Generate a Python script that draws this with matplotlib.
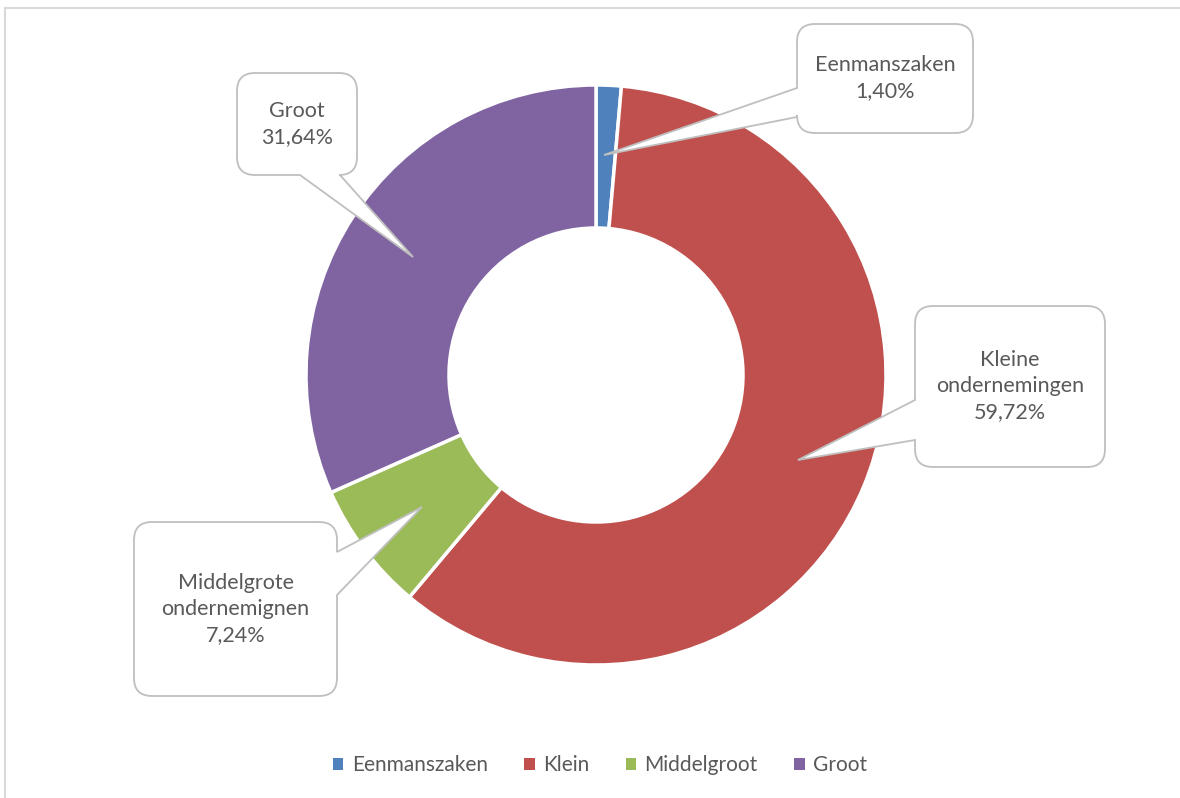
import matplotlib
matplotlib.use("Agg")
import matplotlib.pyplot as plt
from matplotlib.path import Path
from matplotlib.patches import PathPatch, Rectangle

W, H = 1180, 798

categories = ["Eenmanszaken", "Klein", "Middelgroot", "Groot"]
callout_names = ["Eenmanszaken", "Kleine\nondernemingen", "Middelgrote\nondernemignen", "Groot"]
values = [1.40, 59.72, 7.24, 31.64]
colors = ["#4F81BD", "#C0504D", "#9BBB59", "#8064A2"]

plt.rcParams["font.family"] = ["Lato", "DejaVu Sans"]
TXT = "#595959"

fig = plt.figure(figsize=(W / 100, H / 100), dpi=100)
ax = fig.add_axes([0, 0, 1, 1])
ax.set_xlim(0, W)
ax.set_ylim(0, H)
ax.set_aspect("equal")
ax.axis("off")

def Y(y):
    return H - y

# chart border (top and left visible)
ax.add_patch(Rectangle((5, Y(803)), 1185, 795, fill=False, edgecolor="#D9D9D9",
                       lw=1.5, clip_on=False, zorder=0))

cx, cy, R, w = 596, 375, 290, 143
wedges, _ = ax.pie(values, colors=colors, startangle=90, counterclock=False,
                   center=(cx, Y(cy)), radius=R, frame=True,
                   wedgeprops=dict(width=w, edgecolor="white", linewidth=2.5))
ax.set_xlim(0, W)
ax.set_ylim(0, H)
ax.axis("off")


def callout(x0, y0, x1, y1, side, b0, b1, tip, r=18):
    verts, codes = [], []
    def mv(p): verts.append(p); codes.append(Path.MOVETO)
    def ln(p): verts.append(p); codes.append(Path.LINETO)
    def cv(c, p): verts.extend([c, p]); codes.extend([Path.CURVE3, Path.CURVE3])
    lo, hi = min(b0, b1), max(b0, b1)
    mv((x0 + r, y0))
    if side == "top":
        ln((lo, y0)); ln(tip); ln((hi, y0))
    ln((x1 - r, y0)); cv((x1, y0), (x1, y0 + r))
    if side == "right":
        ln((x1, lo)); ln(tip); ln((x1, hi))
    ln((x1, y1 - r)); cv((x1, y1), (x1 - r, y1))
    if side == "bottom":
        ln((hi, y1)); ln(tip); ln((lo, y1))
    ln((x0 + r, y1)); cv((x0, y1), (x0, y1 - r))
    if side == "left":
        ln((x0, hi)); ln(tip); ln((x0, lo))
    ln((x0, y0 + r)); cv((x0, y0), (x0 + r, y0))
    verts.append((x0 + r, y0)); codes.append(Path.CLOSEPOLY)
    verts = [(x, Y(y)) for x, y in verts]
    ax.add_patch(PathPatch(Path(verts, codes), facecolor="white",
                           edgecolor="#BFBFBF", lw=1.3, zorder=5))

boxes = [
    (797, 24, 973, 133, "left", 88, 117, (604, 155)),
    (915, 306, 1105, 467, "left", 400, 440, (798, 460)),
    (134, 522, 337, 696, "right", 552, 595, (422, 507)),
    (237, 73, 357, 175, "bottom", 300, 340, (413, 257)),
]

for name, v, b in zip(callout_names, values, boxes):
    x0, y0, x1, y1 = b[:4]
    callout(*b)
    txt = f"{name}\n{v:.2f}%".replace(".", ",")
    ax.text((x0 + x1) / 2, Y((y0 + y1) / 2), txt, ha="center", va="center",
            fontsize=15.5, color=TXT, linespacing=1.38, zorder=6)

leg = ax.legend(wedges, categories, loc="center", bbox_to_anchor=(600 / W, 33 / H),
                bbox_transform=fig.transFigure, ncol=4, frameon=False,
                fontsize=15, handlelength=0.5, handleheight=0.5,
                handletextpad=0.4, columnspacing=1.75, labelcolor=TXT)
for h in leg.legend_handles:
    h.set_edgecolor("none")

fig.savefig("out.png", dpi=100, facecolor="white")
